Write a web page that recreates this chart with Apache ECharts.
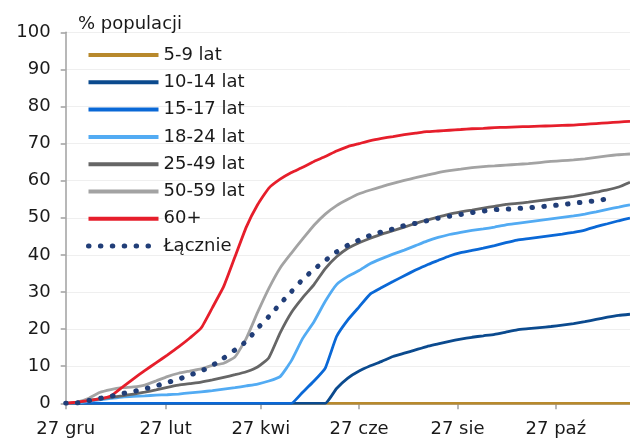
<!DOCTYPE html>
<html><head><meta charset="utf-8">
<script src="https://cdn.jsdelivr.net/npm/echarts@6/dist/echarts.min.js"></script>
<style>html,body{margin:0;padding:0;background:#fff}#c{width:630px;height:439px}</style>
</head><body><div id="c"></div>
<script>
const dates = ['2020-12-27','2021-01-03','2021-01-10','2021-01-17','2021-01-24','2021-01-31','2021-02-07','2021-02-14','2021-02-21','2021-02-28',
'2021-03-07','2021-03-14','2021-03-21','2021-03-28','2021-04-04','2021-04-11','2021-04-18','2021-04-25','2021-05-02','2021-05-09',
'2021-05-16','2021-05-23','2021-05-30','2021-06-06','2021-06-13','2021-06-20','2021-06-27','2021-07-04','2021-07-11','2021-07-18',
'2021-07-25','2021-08-01','2021-08-08','2021-08-15','2021-08-22','2021-08-29','2021-09-05','2021-09-12','2021-09-19','2021-09-26',
'2021-10-03','2021-10-10','2021-10-17','2021-10-24','2021-10-31','2021-11-07','2021-11-14','2021-11-21','2021-11-28','2021-12-05','2021-12-12'];

const s5_9 = [0,0,0,0,0,0,0,0,0,0,0,0,0,0,0,0,0,0,0,0,0,0,0,0,0,0,0,0,0,0,0,0,0,0,0,0,0,0,0,0,0,0,0,0,0,0,0,0,0,0,0];
const s10_14 = [0,0,0,0,0,0,0,0,0,0,0,0,0,0,0,0,0,0,0,0,0,0,0,0,
  4,6.8,8.7,10.1,11.3,12.6,13.5,14.4,15.3,16,16.7,17.3,17.8,18.2,18.6,19.2,19.8,20.1,20.4,20.7,21.1,21.5,22,22.6,23.2,23.7,24.0];
const s15_17 = [0,0,0,0,0,0,0,0,0,0,0,0,0,0,0,0,0,0,0,0,0,
  3,6,9.5,18,22.5,26,29.5,31.2,32.8,34.4,35.9,37.3,38.5,39.7,40.6,41.2,41.8,42.5,43.3,44,44.4,44.8,45.2,45.6,46.1,46.7,47.6,48.4,49.2,49.9];
const s18_24 = [0,0.1,0.5,0.9,1.3,1.7,1.9,2.0,2.2,2.3,2.5,2.8,3.1,3.4,3.8,4.2,4.7,5.2,6.0,7.2,11.5,17.5,22,27.5,32,34.2,35.8,37.7,39,40.2,
  41.3,42.5,43.7,44.7,45.5,46.1,46.6,47,47.5,48.1,48.5,48.9,49.3,49.7,50.1,50.5,51,51.6,52.3,52.9,53.5];
const s25_49 = [0,0.2,0.8,1.2,1.6,2.0,2.5,3.0,3.6,4.3,4.9,5.3,5.7,6.3,7.0,7.7,8.5,9.8,12.3,19,24.5,28.5,32,36.3,39.5,41.8,43.3,44.5,45.6,46.5,
  47.5,48.5,49.4,50.2,51,51.6,52.1,52.6,53.1,53.6,53.9,54.2,54.6,55,55.4,55.8,56.3,56.9,57.5,58.3,59.6];
const s50_59 = [0,0.3,1.3,2.9,3.7,4.2,4.4,4.9,6.0,7.2,8.1,8.7,9.3,10.2,10.8,12.5,17.5,24.5,31,36.5,40.5,44.3,48,51,53.3,55,56.5,57.5,58.4,59.3,
  60.1,60.8,61.5,62.2,62.7,63.1,63.5,63.8,64,64.2,64.4,64.6,64.9,65.2,65.4,65.6,65.9,66.3,66.7,67.0,67.2];
const s60 = [0,0.3,0.7,1.2,2.0,4.3,6.6,8.8,10.9,13,15.2,17.6,20.3,25.8,31.5,39.5,47.5,53.5,58,60.4,62.2,63.6,65.2,66.5,68,69.2,70,70.8,71.4,71.9,
  72.4,72.8,73.2,73.4,73.6,73.8,74.0,74.1,74.3,74.4,74.5,74.6,74.7,74.8,74.9,75.0,75.2,75.4,75.6,75.8,76.0];
const sTotal = [0,0.1,0.7,1.3,1.9,2.6,3.2,3.9,4.7,5.6,6.5,7.6,8.7,10.2,12.2,14.4,16.7,20.2,23.4,26.8,30.1,33.4,36.1,38.5,40.8,42.6,44,45.3,46.2,47.0,
  47.9,48.5,49.2,49.9,50.4,50.9,51.4,51.8,52.2,52.3,52.5,52.7,53.0,53.2,53.6,53.9,54.3,54.6,55.1,null,null];

const seriesNames = ['5-9 lat','10-14 lat','15-17 lat','18-24 lat','25-49 lat','50-59 lat','60+','Łącznie'];
const seriesColors = ['#b8892c','#0b4a8e','#0a68d6','#52abf3','#666666','#a3a3a3','#e61e2b','#213e78'];
const seriesData = [s5_9,s10_14,s15_17,s18_24,s25_49,s50_59,s60,sTotal];

const tickDates = ['2020-12-27','2021-02-27','2021-04-27','2021-06-27','2021-08-27','2021-10-27'];
const tickLabels = ['27 gru','27 lut','27 kwi','27 cze','27 sie','27 paź'];
const yTicks = [0,10,20,30,40,50,60,70,80,90,100];
const yTitle = '% populacji';
const xMin = '2020-12-27', xMax = '2021-12-12';

function dayNum(s){const p=s.split('-').map(Number);const a=xMin.split('-').map(Number);
  return Math.round((Date.UTC(p[0],p[1]-1,p[2])-Date.UTC(a[0],a[1]-1,a[2]))/86400000);}
const tickDays = tickDates.map(dayNum);
const FONT = 'DejaVu Sans';
const DOT = [0.5, 11.4];

const series = seriesNames.map((n,i)=>{
  const isTotal = n==='Łącznie';
  return {
    name:n, type:'line', symbol:'none', showSymbol:false, smooth:0.15,
    data: dates.map((d,k)=>[dayNum(d), seriesData[i][k]]),
    lineStyle: isTotal ? {color:seriesColors[i], width:5, type:DOT, cap:'round', join:'round'} : {color:seriesColors[i], width:2.8},
    itemStyle:{color:seriesColors[i]},
    emphasis:{disabled:true}, animation:false
  };
});

const legendData = seriesNames.map((n,i)=>({
  name:n,
  itemStyle:{opacity:0},
  lineStyle: n==='Łącznie' ? {width:5, type:DOT, cap:'round', color:seriesColors[i]} : {width:4, color:seriesColors[i]}
}));

const chart = echarts.init(document.getElementById('c'),null,{renderer:'canvas'});
chart.setOption({
  animation:false,
  title:{text:yTitle,left:73,top:10,textStyle:{fontFamily:FONT,fontSize:18,fontWeight:'normal',color:'#1a1a1a'}},
  grid:{left:65.7,right:0,top:32.3,bottom:35.7,containLabel:false},
  legend:{orient:'vertical',left:81,top:41,itemWidth:70,itemHeight:18,itemGap:9.3,
    data:legendData, itemStyle:{opacity:0},
    textStyle:{fontFamily:FONT,fontSize:18,color:'#1a1a1a',lineHeight:18},
    selectedMode:false},
  xAxis:{type:'value',min:0,max:dayNum(xMax),
    axisLine:{show:true,lineStyle:{color:'#a0a0a0',width:1.5}},
    axisTick:{show:true,length:6,lineStyle:{color:'#a0a0a0',width:1.5},customValues:tickDays},
    axisLabel:{customValues:tickDays,margin:17,fontFamily:FONT,fontSize:18,color:'#1a1a1a',
      formatter:v=>{const i=tickDays.indexOf(v);return i>=0?tickLabels[i]:'';}},
    splitLine:{show:false}},
  yAxis:{type:'value',min:yTicks[0],max:yTicks[yTicks.length-1],interval:10,
    axisLine:{show:true,lineStyle:{color:'#a0a0a0',width:1.5}},
    axisTick:{show:true,length:5,lineStyle:{color:'#a0a0a0',width:1.5}},
    axisLabel:{margin:15,fontFamily:FONT,fontSize:18,color:'#1a1a1a'},
    splitLine:{show:true,lineStyle:{color:'#efefef',width:1}}},
  series:series
});
</script></body></html>
